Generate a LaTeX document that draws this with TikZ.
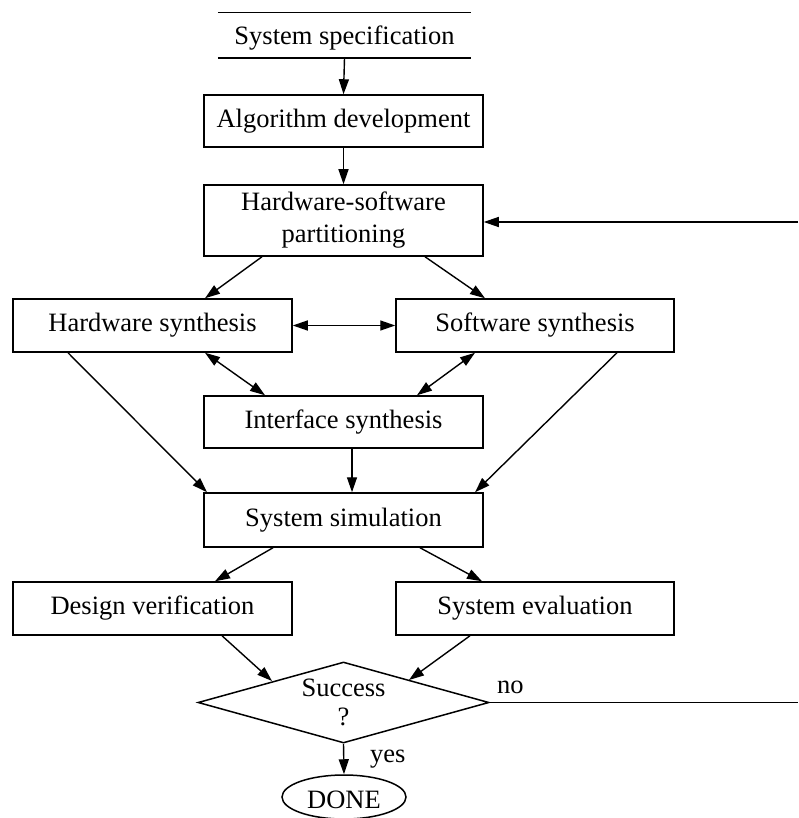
\documentclass[tikz,border=0pt]{standalone}
\usepackage{fontspec}
\setmainfont{Liberation Serif}
\usetikzlibrary{arrows.meta,shapes.geometric,calc}
\begin{document}
\begin{tikzpicture}[x=1pt,y=-1pt,
  every node/.style={font=\fontsize{26.5}{32}\selectfont},
  box/.style={draw,line width=1.5pt,rectangle,minimum width=279pt,minimum height=52pt,inner sep=0pt,align=center},
  arr/.style={line width=1.4pt,-{Triangle[length=15pt,width=10pt]}},
  darr/.style={line width=1.4pt,{Triangle[length=15pt,width=10pt]}-{Triangle[length=15pt,width=10pt]}},
  ln/.style={line width=1.4pt}]
\useasboundingbox (0,0) rectangle (798,818);
% nodes
\node[minimum width=253pt,minimum height=45pt,inner sep=0pt] (spec) at (344.5,35.5) {};
\node[anchor=base] (spectxt) at (344.5,45) {System specification};
\node[box] (alg) at (343.5,121) {Algorithm development};
\node[box,minimum height=71pt] (hwsw) at (343.5,220.5) {Hardware-software\\partitioning};
\node[box,minimum height=53pt] (hws) at (152.5,325.5) {Hardware synthesis};
\node[box,minimum height=53pt,minimum width=278pt] (sws) at (535,325.5) {Software synthesis};
\node[box] (ifs) at (343.5,422) {Interface synthesis};
\node[box,minimum height=54pt] (sim) at (343.5,520) {System simulation};
\node[box,minimum height=53pt] (dv) at (152.5,608.5) {Design verification};
\node[box,minimum height=53pt,minimum width=278pt] (se) at (535,608.5) {System evaluation};
\node[draw,line width=1.5pt,diamond,minimum width=291pt,minimum height=81pt,inner sep=0pt] (dec) at (343.5,702.5) {};
\node[align=center,font=\fontsize{26.5}{29}\selectfont] (dectxt) at (343.5,702.5) {Success\\?};
\node[draw,line width=1.5pt,ellipse,minimum width=124pt,minimum height=44pt,inner sep=0pt] (done) at (344,797) {};
\node[anchor=base] (donetxt) at (344,808) {DONE};
\node[anchor=base west,inner sep=0pt] (yes) at (370,762) {yes};
\node[anchor=base west,inner sep=0pt] (no) at (497,693) {no};
\coordinate (fbin) at (798,222);
\coordinate (fbout) at (798,702.5);
% spec lines
\draw[ln] (spec.north west) -- (spec.north east);
\draw[ln] (spec.south west) -- (spec.south east);
% connectors
\draw[arr] (spec.south) -- (alg.north);
\draw[arr] (alg.south) -- (hwsw.north);
\draw[arr] (fbin) -- (fbin -| hwsw.east);
\draw[ln] (dec.east) -- (fbout);
\draw[arr] ($(hwsw.south)+(-81.5,0)$) -- ($(hws.north)+(52.5,0)$);
\draw[arr] ($(hwsw.south)+(81.5,0)$) -- ($(sws.north)+(-50,0)$);
\draw[darr] (hws.east) -- (sws.west);
\draw[darr] ($(hws.south)+(52.5,0)$) -- ($(ifs.north)+(-78.5,0)$);
\draw[darr] ($(sws.south)+(-60,0)$) -- ($(ifs.north)+(73.5,0)$);
\draw[arr] ($(hws.south)+(-84.5,0)$) -- ($(sim.north)+(-136.5,0)$);
\draw[arr] ($(sws.south)+(82,0)$) -- ($(sim.north)+(131.5,0)$);
\draw[arr] ($(ifs.south)+(8.5,0)$) -- ($(sim.north)+(8.5,0)$);
\draw[arr] ($(sim.south)+(-70.5,0)$) -- ($(dv.north)+(62.5,0)$);
\draw[arr] ($(sim.south)+(76.5,0)$) -- ($(se.north)+(-53,0)$);
\draw[arr] ($(dv.south)+(69.5,0)$) -- ($(dec.center)+(-71.5,-21.5)$);
\draw[arr] ($(se.south)+(-65,0)$) -- ($(dec.center)+(65.5,-22.5)$);
\draw[arr] (dec.south) -- (done.north);
\end{tikzpicture}
\end{document}
